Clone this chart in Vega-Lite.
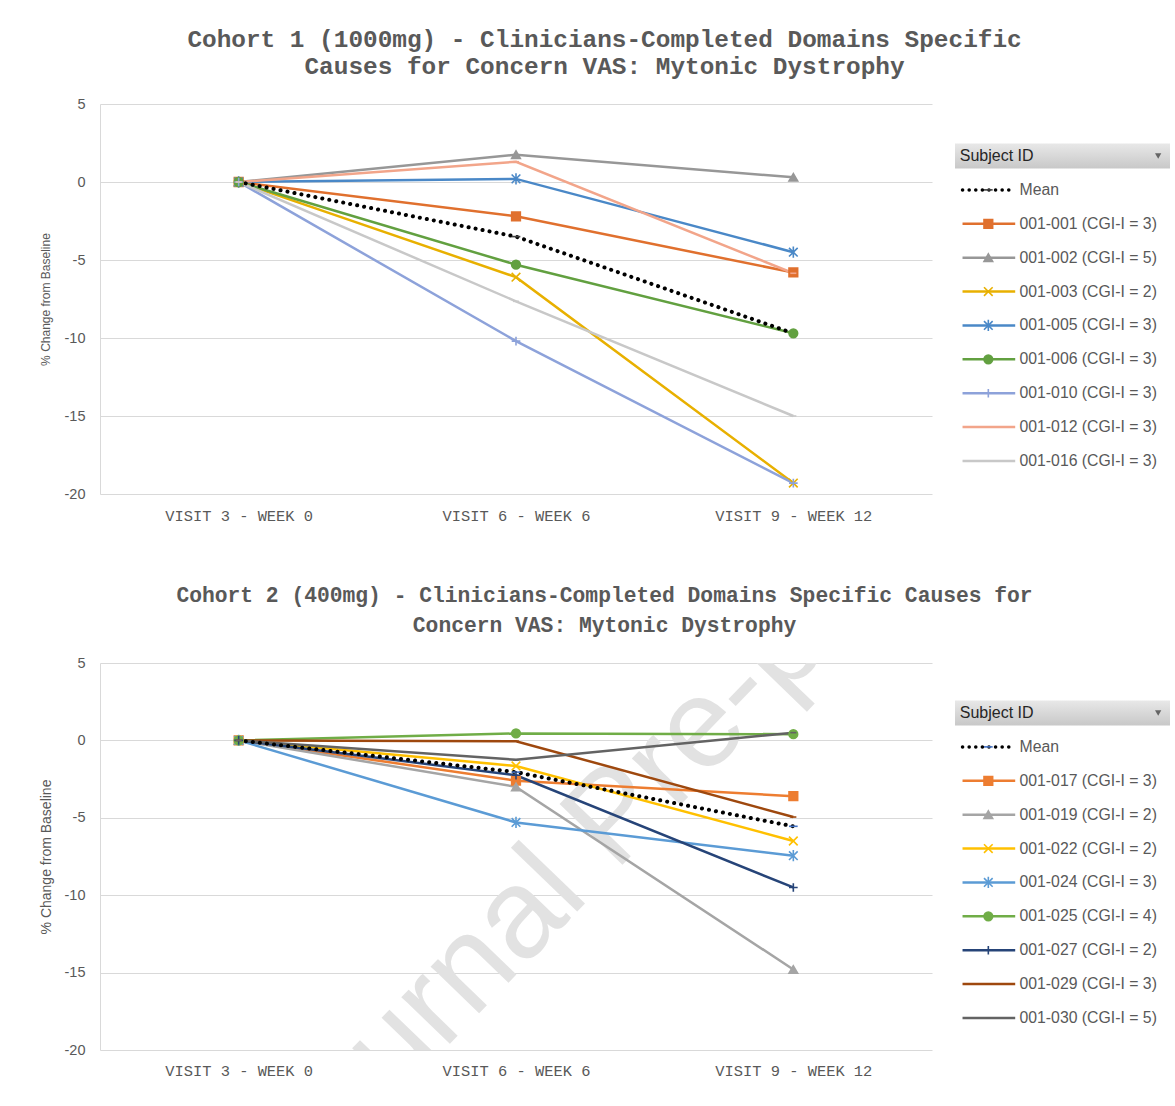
{
  "$schema": "https://vega.github.io/schema/vega-lite/v6.json",
  "background": "white",
  "padding": {"left": 39, "top": 26, "right": 0, "bottom": 0},
  "config": {
    "view": {"stroke": null},
    "font": "Liberation Sans",
    "axis": {"labelColor": "#595959", "titleColor": "#595959"}
  },
  "datasets": {
    "c1": [
      {"subject": "Mean", "visit": "VISIT 3 - WEEK 0", "value": 0},
      {"subject": "Mean", "visit": "VISIT 6 - WEEK 6", "value": -3.5},
      {"subject": "Mean", "visit": "VISIT 9 - WEEK 12", "value": -9.7},
      {"subject": "001-001 (CGI-I = 3)", "visit": "VISIT 3 - WEEK 0", "value": 0},
      {"subject": "001-001 (CGI-I = 3)", "visit": "VISIT 6 - WEEK 6", "value": -2.2},
      {"subject": "001-001 (CGI-I = 3)", "visit": "VISIT 9 - WEEK 12", "value": -5.8},
      {"subject": "001-002 (CGI-I = 5)", "visit": "VISIT 3 - WEEK 0", "value": 0},
      {"subject": "001-002 (CGI-I = 5)", "visit": "VISIT 6 - WEEK 6", "value": 1.75},
      {"subject": "001-002 (CGI-I = 5)", "visit": "VISIT 9 - WEEK 12", "value": 0.3},
      {"subject": "001-003 (CGI-I = 2)", "visit": "VISIT 3 - WEEK 0", "value": 0},
      {"subject": "001-003 (CGI-I = 2)", "visit": "VISIT 6 - WEEK 6", "value": -6.1},
      {"subject": "001-003 (CGI-I = 2)", "visit": "VISIT 9 - WEEK 12", "value": -19.3},
      {"subject": "001-005 (CGI-I = 3)", "visit": "VISIT 3 - WEEK 0", "value": 0},
      {"subject": "001-005 (CGI-I = 3)", "visit": "VISIT 6 - WEEK 6", "value": 0.2},
      {"subject": "001-005 (CGI-I = 3)", "visit": "VISIT 9 - WEEK 12", "value": -4.5},
      {"subject": "001-006 (CGI-I = 3)", "visit": "VISIT 3 - WEEK 0", "value": 0},
      {"subject": "001-006 (CGI-I = 3)", "visit": "VISIT 6 - WEEK 6", "value": -5.3},
      {"subject": "001-006 (CGI-I = 3)", "visit": "VISIT 9 - WEEK 12", "value": -9.7},
      {"subject": "001-010 (CGI-I = 3)", "visit": "VISIT 3 - WEEK 0", "value": 0},
      {"subject": "001-010 (CGI-I = 3)", "visit": "VISIT 6 - WEEK 6", "value": -10.2},
      {"subject": "001-010 (CGI-I = 3)", "visit": "VISIT 9 - WEEK 12", "value": -19.3},
      {"subject": "001-012 (CGI-I = 3)", "visit": "VISIT 3 - WEEK 0", "value": 0},
      {"subject": "001-012 (CGI-I = 3)", "visit": "VISIT 6 - WEEK 6", "value": 1.3},
      {"subject": "001-012 (CGI-I = 3)", "visit": "VISIT 9 - WEEK 12", "value": -5.85},
      {"subject": "001-016 (CGI-I = 3)", "visit": "VISIT 3 - WEEK 0", "value": 0},
      {"subject": "001-016 (CGI-I = 3)", "visit": "VISIT 6 - WEEK 6", "value": -7.65},
      {"subject": "001-016 (CGI-I = 3)", "visit": "VISIT 9 - WEEK 12", "value": -15.0}
    ],
    "c2": [
      {"subject": "Mean", "visit": "VISIT 3 - WEEK 0", "value": 0},
      {"subject": "Mean", "visit": "VISIT 6 - WEEK 6", "value": -2.05},
      {"subject": "Mean", "visit": "VISIT 9 - WEEK 12", "value": -5.55},
      {"subject": "001-017 (CGI-I = 3)", "visit": "VISIT 3 - WEEK 0", "value": 0},
      {"subject": "001-017 (CGI-I = 3)", "visit": "VISIT 6 - WEEK 6", "value": -2.6},
      {"subject": "001-017 (CGI-I = 3)", "visit": "VISIT 9 - WEEK 12", "value": -3.6},
      {"subject": "001-019 (CGI-I = 2)", "visit": "VISIT 3 - WEEK 0", "value": 0},
      {"subject": "001-019 (CGI-I = 2)", "visit": "VISIT 6 - WEEK 6", "value": -3.0},
      {"subject": "001-019 (CGI-I = 2)", "visit": "VISIT 9 - WEEK 12", "value": -14.8},
      {"subject": "001-022 (CGI-I = 2)", "visit": "VISIT 3 - WEEK 0", "value": 0},
      {"subject": "001-022 (CGI-I = 2)", "visit": "VISIT 6 - WEEK 6", "value": -1.65},
      {"subject": "001-022 (CGI-I = 2)", "visit": "VISIT 9 - WEEK 12", "value": -6.5},
      {"subject": "001-024 (CGI-I = 3)", "visit": "VISIT 3 - WEEK 0", "value": 0},
      {"subject": "001-024 (CGI-I = 3)", "visit": "VISIT 6 - WEEK 6", "value": -5.3},
      {"subject": "001-024 (CGI-I = 3)", "visit": "VISIT 9 - WEEK 12", "value": -7.45},
      {"subject": "001-025 (CGI-I = 4)", "visit": "VISIT 3 - WEEK 0", "value": 0},
      {"subject": "001-025 (CGI-I = 4)", "visit": "VISIT 6 - WEEK 6", "value": 0.45},
      {"subject": "001-025 (CGI-I = 4)", "visit": "VISIT 9 - WEEK 12", "value": 0.4},
      {"subject": "001-027 (CGI-I = 2)", "visit": "VISIT 3 - WEEK 0", "value": 0},
      {"subject": "001-027 (CGI-I = 2)", "visit": "VISIT 6 - WEEK 6", "value": -2.25},
      {"subject": "001-027 (CGI-I = 2)", "visit": "VISIT 9 - WEEK 12", "value": -9.5},
      {"subject": "001-029 (CGI-I = 3)", "visit": "VISIT 3 - WEEK 0", "value": 0},
      {"subject": "001-029 (CGI-I = 3)", "visit": "VISIT 6 - WEEK 6", "value": -0.05},
      {"subject": "001-029 (CGI-I = 3)", "visit": "VISIT 9 - WEEK 12", "value": -4.95},
      {"subject": "001-030  (CGI-I = 5)", "visit": "VISIT 3 - WEEK 0", "value": 0},
      {"subject": "001-030  (CGI-I = 5)", "visit": "VISIT 6 - WEEK 6", "value": -1.25},
      {"subject": "001-030  (CGI-I = 5)", "visit": "VISIT 9 - WEEK 12", "value": 0.5}
    ],
    "l1": [
      {"item": "Mean"}, {"item": "001-001 (CGI-I = 3)"}, {"item": "001-002 (CGI-I = 5)"}, {"item": "001-003 (CGI-I = 2)"},
      {"item": "001-005 (CGI-I = 3)"}, {"item": "001-006 (CGI-I = 3)"}, {"item": "001-010 (CGI-I = 3)"},
      {"item": "001-012 (CGI-I = 3)"}, {"item": "001-016 (CGI-I = 3)"}
    ],
    "l2": [
      {"item": "Mean"}, {"item": "001-017 (CGI-I = 3)"}, {"item": "001-019 (CGI-I = 2)"}, {"item": "001-022 (CGI-I = 2)"},
      {"item": "001-024 (CGI-I = 3)"}, {"item": "001-025 (CGI-I = 4)"}, {"item": "001-027 (CGI-I = 2)"},
      {"item": "001-029 (CGI-I = 3)"}, {"item": "001-030  (CGI-I = 5)"}
    ],
    "hdr": [{"item": "Subject ID"}],
    "wm": [{"label": "Journal Pre-proof", "visit": "VISIT 6 - WEEK 6", "value": 0}]
  },
  "spacing": 60,
  "resolve": {"scale": {"x": "independent", "y": "independent", "color": "independent", "fill": "independent", "stroke": "independent", "shape": "independent"}},
  "vconcat": [
    {
      "title": {"text": ["Cohort 1 (1000mg) - Clinicians-Completed Domains Specific", "Causes for Concern VAS: Mytonic Dystrophy"], "font": "Liberation Mono", "fontSize": 24.4, "fontWeight": "bold", "color": "#595959", "lineHeight": 27, "anchor": "middle", "offset": 17},
      "bounds": "flush",
      "spacing": 23,
      "resolve": {"scale": {"x": "independent", "y": "independent", "color": "independent", "fill": "independent", "stroke": "independent", "shape": "independent"}},
      "hconcat": [
        {
          "width": 832, "height": 390,
          "data": {"name": "c1"},
          "encoding": {
            "x": {"field": "visit", "type": "ordinal", "sort": ["VISIT 3 - WEEK 0", "VISIT 6 - WEEK 6", "VISIT 9 - WEEK 12"], "scale": {"type": "point", "padding": 0.5}, "title": null,
              "axis": {"labelAngle": 0, "domain": false, "ticks": false, "grid": false, "labelPadding": 14, "labelFont": "Liberation Mono", "labelFontSize": 15.4}},
            "y": {"field": "value", "type": "quantitative", "scale": {"domain": [-20, 5], "nice": false}, "title": "% Change from Baseline",
              "axis": {"values": [-20, -15, -10, -5, 0, 5], "labelExpr": "'' + datum.value", "grid": true, "gridColor": "#d9d9d9", "gridWidth": 1.2, "domainColor": "#d9d9d9", "ticks": false, "labelPadding": 15, "labelFontSize": 14.5, "titleFontSize": 12, "titleFontWeight": "normal", "titlePadding": 12}}
          },
          "layer": [
            {
              "transform": [{"filter": "datum.subject !== 'Mean'"}],
              "mark": {"type": "line", "strokeWidth": 2.5},
              "encoding": {"color": {"field": "subject", "type": "nominal", "legend": null,
                "scale": {"domain": ["001-001 (CGI-I = 3)", "001-002 (CGI-I = 5)", "001-003 (CGI-I = 2)", "001-005 (CGI-I = 3)", "001-006 (CGI-I = 3)", "001-010 (CGI-I = 3)", "001-012 (CGI-I = 3)", "001-016 (CGI-I = 3)"],
                  "range": ["#E0702E", "#979797", "#E8B000", "#4A88C7", "#62A040", "#8DA2DA", "#F2A58A", "#C8C8C8"]}}}
            },
            {
              "transform": [{"filter": "datum.subject === 'Mean'"}],
              "mark": {"type": "line", "strokeWidth": 4, "strokeDash": [0.1, 7], "strokeCap": "round", "color": "#000000"},
              "encoding": {}
            },
            {
              "mark": {"type": "point", "filled": true, "size": 75, "strokeWidth": 1.6, "opacity": 1},
              "encoding": {
                "shape": {"field": "subject", "type": "nominal", "legend": null,
                  "scale": {"domain": ["Mean", "001-001 (CGI-I = 3)", "001-002 (CGI-I = 5)", "001-003 (CGI-I = 2)", "001-005 (CGI-I = 3)", "001-006 (CGI-I = 3)", "001-010 (CGI-I = 3)", "001-012 (CGI-I = 3)", "001-016 (CGI-I = 3)"],
                    "range": ["M-1,0L1,0", "square", "triangle-up", "M-1,-1L1,1M-1,1L1,-1", "M-1,-1L1,1M-1,1L1,-1M0,-1.3L0,1.3", "circle", "M-1,0L1,0M0,-1L0,1", "M-0.7,0L0.7,0", "M-0.7,0L0.7,0"]}},
                "fill": {"field": "subject", "type": "nominal", "legend": null,
                  "scale": {"domain": ["Mean", "001-001 (CGI-I = 3)", "001-002 (CGI-I = 5)", "001-003 (CGI-I = 2)", "001-005 (CGI-I = 3)", "001-006 (CGI-I = 3)", "001-010 (CGI-I = 3)", "001-012 (CGI-I = 3)", "001-016 (CGI-I = 3)"],
                    "range": ["#404040", "#E0702E", "#979797", "#E8B000", "#4A88C7", "#62A040", "#8DA2DA", "#F2A58A", "#C8C8C8"]}},
                "stroke": {"field": "subject", "type": "nominal", "legend": null,
                  "scale": {"domain": ["Mean", "001-001 (CGI-I = 3)", "001-002 (CGI-I = 5)", "001-003 (CGI-I = 2)", "001-005 (CGI-I = 3)", "001-006 (CGI-I = 3)", "001-010 (CGI-I = 3)", "001-012 (CGI-I = 3)", "001-016 (CGI-I = 3)"],
                    "range": ["#404040", "#E0702E", "#979797", "#E8B000", "#4A88C7", "#62A040", "#8DA2DA", "#F2A58A", "#C8C8C8"]}}
              }
            }
          ]
        },
        {
          "width": 215, "height": 390,
          "encoding": {
            "y": {"field": "item", "type": "nominal", "axis": null,
              "scale": {"type": "point", "padding": 0, "range": [52, 357], "domain": ["Subject ID", "Mean", "001-001 (CGI-I = 3)", "001-002 (CGI-I = 5)", "001-003 (CGI-I = 2)", "001-005 (CGI-I = 3)", "001-006 (CGI-I = 3)", "001-010 (CGI-I = 3)", "001-012 (CGI-I = 3)", "001-016 (CGI-I = 3)"]}}
          },
          "layer": [
            {
              "data": {"name": "hdr"},
              "mark": {"type": "bar", "size": 25, "color": {"gradient": "linear", "x1": 0, "y1": 0, "x2": 0, "y2": 1, "stops": [{"offset": 0, "color": "#e8e8e8"}, {"offset": 1, "color": "#c8c8c8"}]}},
              "encoding": {"x": {"datum": 0, "type": "quantitative", "scale": {"domain": [0, 10]}, "axis": null}, "x2": {"datum": 10}}
            },
            {
              "data": {"name": "hdr"},
              "mark": {"type": "text", "align": "left", "baseline": "middle", "fontSize": 16, "color": "#262626", "font": "Liberation Sans"},
              "encoding": {"x": {"datum": 0.22, "type": "quantitative"}, "text": {"field": "item"}}
            },
            {
              "data": {"name": "hdr"},
              "mark": {"type": "point", "shape": "triangle-down", "filled": true, "size": 40, "color": "#333333"},
              "encoding": {"x": {"datum": 9.45, "type": "quantitative"}}
            },
            {
              "data": {"name": "l1"},
              "transform": [{"filter": "datum.item !== 'Mean'"}],
              "mark": {"type": "rule", "strokeWidth": 2.5},
              "encoding": {"x": {"datum": 0.35, "type": "quantitative"}, "x2": {"datum": 2.8},
                "color": {"field": "item", "type": "nominal", "legend": null,
                  "scale": {"domain": ["001-001 (CGI-I = 3)", "001-002 (CGI-I = 5)", "001-003 (CGI-I = 2)", "001-005 (CGI-I = 3)", "001-006 (CGI-I = 3)", "001-010 (CGI-I = 3)", "001-012 (CGI-I = 3)", "001-016 (CGI-I = 3)"],
                    "range": ["#E0702E", "#979797", "#E8B000", "#4A88C7", "#62A040", "#8DA2DA", "#F2A58A", "#C8C8C8"]}}}
            },
            {
              "data": {"name": "l1"},
              "transform": [{"filter": "datum.item === 'Mean'"}],
              "mark": {"type": "rule", "strokeWidth": 3.5, "strokeDash": [0.1, 6.5], "strokeCap": "round", "color": "#000000"},
              "encoding": {"x": {"datum": 0.35, "type": "quantitative"}, "x2": {"datum": 2.8}}
            },
            {
              "data": {"name": "l1"},
              "mark": {"type": "point", "filled": true, "size": 75, "strokeWidth": 1.6, "opacity": 1},
              "encoding": {
                "x": {"datum": 1.55, "type": "quantitative"},
                "shape": {"field": "item", "type": "nominal", "legend": null,
                  "scale": {"domain": ["Mean", "001-001 (CGI-I = 3)", "001-002 (CGI-I = 5)", "001-003 (CGI-I = 2)", "001-005 (CGI-I = 3)", "001-006 (CGI-I = 3)", "001-010 (CGI-I = 3)", "001-012 (CGI-I = 3)", "001-016 (CGI-I = 3)"],
                    "range": ["M-1,0L1,0", "square", "triangle-up", "M-1,-1L1,1M-1,1L1,-1", "M-1,-1L1,1M-1,1L1,-1M0,-1.3L0,1.3", "circle", "M-1,0L1,0M0,-1L0,1", "M-0.7,0L0.7,0", "M-0.7,0L0.7,0"]}},
                "fill": {"field": "item", "type": "nominal", "legend": null,
                  "scale": {"domain": ["Mean", "001-001 (CGI-I = 3)", "001-002 (CGI-I = 5)", "001-003 (CGI-I = 2)", "001-005 (CGI-I = 3)", "001-006 (CGI-I = 3)", "001-010 (CGI-I = 3)", "001-012 (CGI-I = 3)", "001-016 (CGI-I = 3)"],
                    "range": ["#404040", "#E0702E", "#979797", "#E8B000", "#4A88C7", "#62A040", "#8DA2DA", "#F2A58A", "#C8C8C8"]}},
                "stroke": {"field": "item", "type": "nominal", "legend": null,
                  "scale": {"domain": ["Mean", "001-001 (CGI-I = 3)", "001-002 (CGI-I = 5)", "001-003 (CGI-I = 2)", "001-005 (CGI-I = 3)", "001-006 (CGI-I = 3)", "001-010 (CGI-I = 3)", "001-012 (CGI-I = 3)", "001-016 (CGI-I = 3)"],
                    "range": ["#404040", "#E0702E", "#979797", "#E8B000", "#4A88C7", "#62A040", "#8DA2DA", "#F2A58A", "#C8C8C8"]}}
              }
            },
            {
              "data": {"name": "l1"},
              "mark": {"type": "text", "align": "left", "baseline": "middle", "fontSize": 15.8, "color": "#595959", "font": "Liberation Sans"},
              "encoding": {"x": {"datum": 3.0, "type": "quantitative"}, "text": {"field": "item"}}
            }
          ]
        }
      ]
    },
    {
      "title": {"text": ["Cohort 2 (400mg) - Clinicians-Completed Domains Specific Causes for", "Concern VAS: Mytonic Dystrophy"], "font": "Liberation Mono", "fontSize": 21.3, "fontWeight": "bold", "color": "#595959", "lineHeight": 30, "anchor": "middle", "offset": 19},
      "bounds": "flush",
      "spacing": 23,
      "resolve": {"scale": {"x": "independent", "y": "independent", "color": "independent", "fill": "independent", "stroke": "independent", "shape": "independent"}},
      "hconcat": [
        {
          "width": 832, "height": 387,
          "encoding": {
            "x": {"field": "visit", "type": "ordinal", "sort": ["VISIT 3 - WEEK 0", "VISIT 6 - WEEK 6", "VISIT 9 - WEEK 12"], "scale": {"type": "point", "padding": 0.5}, "title": null,
              "axis": {"labelAngle": 0, "domain": false, "ticks": false, "grid": false, "labelPadding": 13, "labelFont": "Liberation Mono", "labelFontSize": 15.4}},
            "y": {"field": "value", "type": "quantitative", "scale": {"domain": [-20, 5], "nice": false}, "title": "% Change from Baseline",
              "axis": {"values": [-20, -15, -10, -5, 0, 5], "labelExpr": "'' + datum.value", "grid": true, "gridColor": "#d9d9d9", "gridWidth": 1.2, "domainColor": "#d9d9d9", "ticks": false, "labelPadding": 15, "labelFontSize": 14.5, "titleFontSize": 14, "titleFontWeight": "normal", "titlePadding": 11}}
          },
          "layer": [
            {
              "data": {"name": "wm"},
              "mark": {"type": "text", "angle": -46, "fontSize": 127, "font": "Liberation Sans", "color": "#e2e2e2", "align": "center", "baseline": "middle", "dx": 13, "dy": 125, "clip": true},
              "encoding": {"text": {"field": "label", "type": "nominal"}}
            },
            {
              "data": {"name": "c2"},
              "transform": [{"filter": "datum.subject !== 'Mean'"}],
              "mark": {"type": "line", "strokeWidth": 2.5},
              "encoding": {"color": {"field": "subject", "type": "nominal", "legend": null,
                "scale": {"domain": ["001-017 (CGI-I = 3)", "001-019 (CGI-I = 2)", "001-022 (CGI-I = 2)", "001-024 (CGI-I = 3)", "001-025 (CGI-I = 4)", "001-027 (CGI-I = 2)", "001-029 (CGI-I = 3)", "001-030  (CGI-I = 5)"],
                  "range": ["#ED7D31", "#A5A5A5", "#FFC000", "#5B9BD5", "#70AD47", "#264478", "#9E480E", "#636363"]}}}
            },
            {
              "data": {"name": "c2"},
              "transform": [{"filter": "datum.subject === 'Mean'"}],
              "mark": {"type": "line", "strokeWidth": 4, "strokeDash": [0.1, 7], "strokeCap": "round", "color": "#000000"},
              "encoding": {}
            },
            {
              "data": {"name": "c2"},
              "mark": {"type": "point", "filled": true, "size": 75, "strokeWidth": 1.6, "opacity": 1},
              "encoding": {
                "shape": {"field": "subject", "type": "nominal", "legend": null,
                  "scale": {"domain": ["Mean", "001-017 (CGI-I = 3)", "001-019 (CGI-I = 2)", "001-022 (CGI-I = 2)", "001-024 (CGI-I = 3)", "001-025 (CGI-I = 4)", "001-027 (CGI-I = 2)", "001-029 (CGI-I = 3)", "001-030  (CGI-I = 5)"],
                    "range": ["M-1,0L1,0", "square", "triangle-up", "M-1,-1L1,1M-1,1L1,-1", "M-1,-1L1,1M-1,1L1,-1M0,-1.3L0,1.3", "circle", "M-1,0L1,0M0,-1L0,1", "M-0.7,0L0.7,0", "M-0.7,0L0.7,0"]}},
                "fill": {"field": "subject", "type": "nominal", "legend": null,
                  "scale": {"domain": ["Mean", "001-017 (CGI-I = 3)", "001-019 (CGI-I = 2)", "001-022 (CGI-I = 2)", "001-024 (CGI-I = 3)", "001-025 (CGI-I = 4)", "001-027 (CGI-I = 2)", "001-029 (CGI-I = 3)", "001-030  (CGI-I = 5)"],
                    "range": ["#4472C4", "#ED7D31", "#A5A5A5", "#FFC000", "#5B9BD5", "#70AD47", "#264478", "#9E480E", "#636363"]}},
                "stroke": {"field": "subject", "type": "nominal", "legend": null,
                  "scale": {"domain": ["Mean", "001-017 (CGI-I = 3)", "001-019 (CGI-I = 2)", "001-022 (CGI-I = 2)", "001-024 (CGI-I = 3)", "001-025 (CGI-I = 4)", "001-027 (CGI-I = 2)", "001-029 (CGI-I = 3)", "001-030  (CGI-I = 5)"],
                    "range": ["#4472C4", "#ED7D31", "#A5A5A5", "#FFC000", "#5B9BD5", "#70AD47", "#264478", "#9E480E", "#636363"]}}
              }
            }
          ]
        },
        {
          "width": 215, "height": 387,
          "encoding": {
            "y": {"field": "item", "type": "nominal", "axis": null,
              "scale": {"type": "point", "padding": 0, "range": [50, 355], "domain": ["Subject ID", "Mean", "001-017 (CGI-I = 3)", "001-019 (CGI-I = 2)", "001-022 (CGI-I = 2)", "001-024 (CGI-I = 3)", "001-025 (CGI-I = 4)", "001-027 (CGI-I = 2)", "001-029 (CGI-I = 3)", "001-030  (CGI-I = 5)"]}}
          },
          "layer": [
            {
              "data": {"name": "hdr"},
              "mark": {"type": "bar", "size": 25, "color": {"gradient": "linear", "x1": 0, "y1": 0, "x2": 0, "y2": 1, "stops": [{"offset": 0, "color": "#e8e8e8"}, {"offset": 1, "color": "#c8c8c8"}]}},
              "encoding": {"x": {"datum": 0, "type": "quantitative", "scale": {"domain": [0, 10]}, "axis": null}, "x2": {"datum": 10}}
            },
            {
              "data": {"name": "hdr"},
              "mark": {"type": "text", "align": "left", "baseline": "middle", "fontSize": 16, "color": "#262626", "font": "Liberation Sans"},
              "encoding": {"x": {"datum": 0.22, "type": "quantitative"}, "text": {"field": "item"}}
            },
            {
              "data": {"name": "hdr"},
              "mark": {"type": "point", "shape": "triangle-down", "filled": true, "size": 40, "color": "#333333"},
              "encoding": {"x": {"datum": 9.45, "type": "quantitative"}}
            },
            {
              "data": {"name": "l2"},
              "transform": [{"filter": "datum.item !== 'Mean'"}],
              "mark": {"type": "rule", "strokeWidth": 2.5},
              "encoding": {"x": {"datum": 0.35, "type": "quantitative"}, "x2": {"datum": 2.8},
                "color": {"field": "item", "type": "nominal", "legend": null,
                  "scale": {"domain": ["001-017 (CGI-I = 3)", "001-019 (CGI-I = 2)", "001-022 (CGI-I = 2)", "001-024 (CGI-I = 3)", "001-025 (CGI-I = 4)", "001-027 (CGI-I = 2)", "001-029 (CGI-I = 3)", "001-030  (CGI-I = 5)"],
                    "range": ["#ED7D31", "#A5A5A5", "#FFC000", "#5B9BD5", "#70AD47", "#264478", "#9E480E", "#636363"]}}}
            },
            {
              "data": {"name": "l2"},
              "transform": [{"filter": "datum.item === 'Mean'"}],
              "mark": {"type": "rule", "strokeWidth": 3.5, "strokeDash": [0.1, 6.5], "strokeCap": "round", "color": "#000000"},
              "encoding": {"x": {"datum": 0.35, "type": "quantitative"}, "x2": {"datum": 2.8}}
            },
            {
              "data": {"name": "l2"},
              "mark": {"type": "point", "filled": true, "size": 75, "strokeWidth": 1.6, "opacity": 1},
              "encoding": {
                "x": {"datum": 1.55, "type": "quantitative"},
                "shape": {"field": "item", "type": "nominal", "legend": null,
                  "scale": {"domain": ["Mean", "001-017 (CGI-I = 3)", "001-019 (CGI-I = 2)", "001-022 (CGI-I = 2)", "001-024 (CGI-I = 3)", "001-025 (CGI-I = 4)", "001-027 (CGI-I = 2)", "001-029 (CGI-I = 3)", "001-030  (CGI-I = 5)"],
                    "range": ["M-1,0L1,0", "square", "triangle-up", "M-1,-1L1,1M-1,1L1,-1", "M-1,-1L1,1M-1,1L1,-1M0,-1.3L0,1.3", "circle", "M-1,0L1,0M0,-1L0,1", "M-0.7,0L0.7,0", "M-0.7,0L0.7,0"]}},
                "fill": {"field": "item", "type": "nominal", "legend": null,
                  "scale": {"domain": ["Mean", "001-017 (CGI-I = 3)", "001-019 (CGI-I = 2)", "001-022 (CGI-I = 2)", "001-024 (CGI-I = 3)", "001-025 (CGI-I = 4)", "001-027 (CGI-I = 2)", "001-029 (CGI-I = 3)", "001-030  (CGI-I = 5)"],
                    "range": ["#4472C4", "#ED7D31", "#A5A5A5", "#FFC000", "#5B9BD5", "#70AD47", "#264478", "#9E480E", "#636363"]}},
                "stroke": {"field": "item", "type": "nominal", "legend": null,
                  "scale": {"domain": ["Mean", "001-017 (CGI-I = 3)", "001-019 (CGI-I = 2)", "001-022 (CGI-I = 2)", "001-024 (CGI-I = 3)", "001-025 (CGI-I = 4)", "001-027 (CGI-I = 2)", "001-029 (CGI-I = 3)", "001-030  (CGI-I = 5)"],
                    "range": ["#4472C4", "#ED7D31", "#A5A5A5", "#FFC000", "#5B9BD5", "#70AD47", "#264478", "#9E480E", "#636363"]}}
              }
            },
            {
              "data": {"name": "l2"},
              "mark": {"type": "text", "align": "left", "baseline": "middle", "fontSize": 15.8, "color": "#595959", "font": "Liberation Sans"},
              "encoding": {"x": {"datum": 3.0, "type": "quantitative"}, "text": {"field": "item"}}
            }
          ]
        }
      ]
    }
  ]
}
